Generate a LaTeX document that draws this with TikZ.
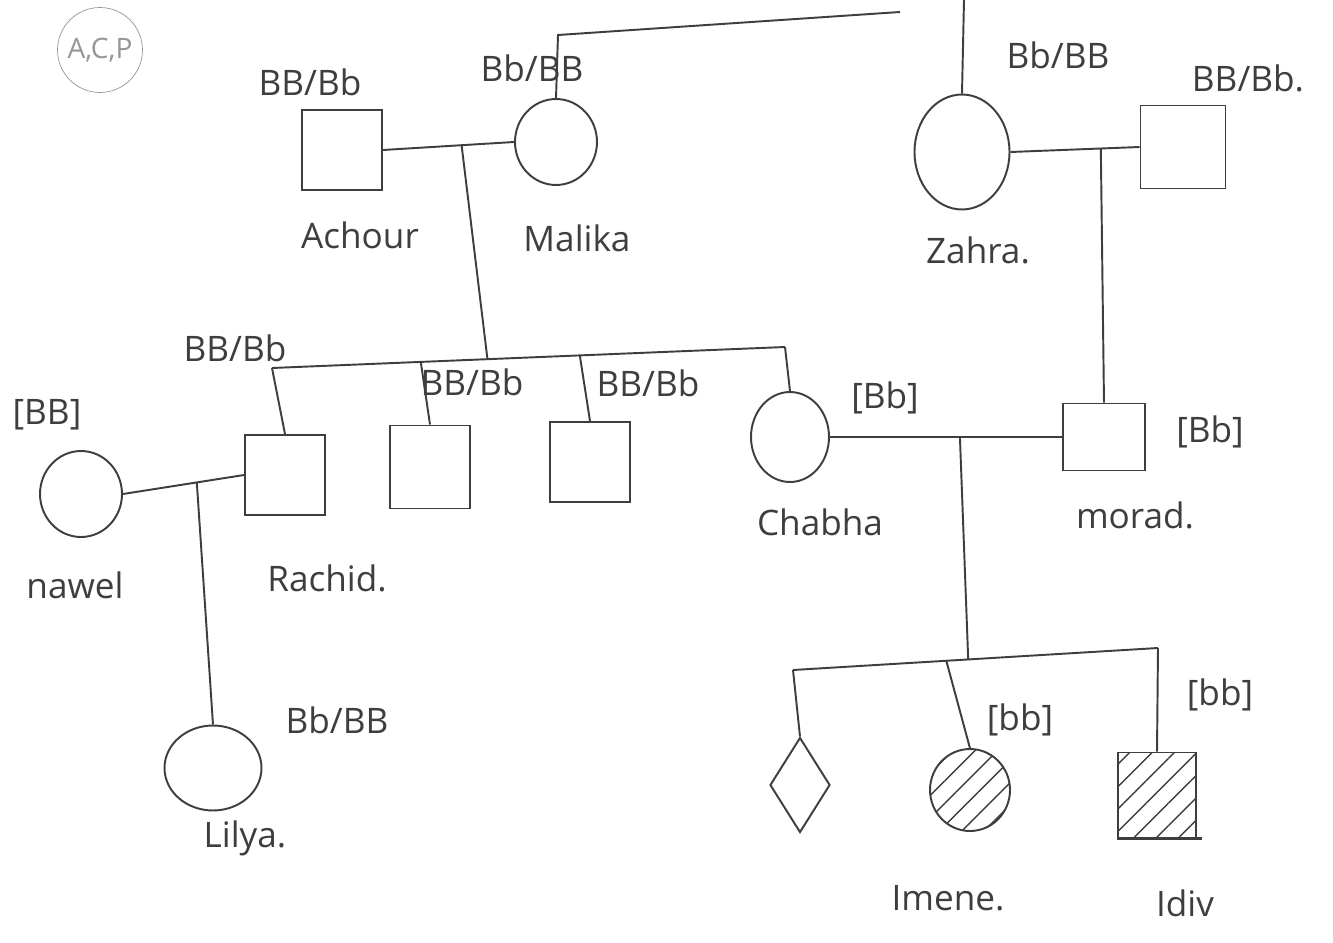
\documentclass[tikz,border=0pt]{standalone}
\usepackage{fontspec}
\setmainfont{Open Sans}
\usetikzlibrary{calc,shapes.geometric,patterns.meta}
\definecolor{Pencil}{RGB}{62,62,62}
\definecolor{FaintPencil}{RGB}{150,150,150}
\tikzset{
  person/.style={draw=Pencil,line width=1.1pt,inner sep=0pt},
  male/.style={person,rectangle,minimum width=1.6cm,minimum height=1.6cm},
  female/.style={person,ellipse,minimum width=1.64cm,minimum height=1.72cm},
  unknown/.style={person,diamond,minimum width=1.2cm,minimum height=1.9cm},
  affected/.style={pattern={Lines[angle=45,distance=9pt,line width=0.8pt]},
    pattern color=Pencil},
  geno/.style={text=Pencil,font=\fontsize{20}{24}\selectfont},
  nametag/.style={text=Pencil,font=\fontsize{20}{24}\selectfont},
  link/.style={draw=Pencil,line width=1.1pt}
}
\begin{document}
\begin{tikzpicture}[x=0.02cm,y=-0.02cm]
  \useasboundingbox[fill=white] (0,0) rectangle (1333,943);
  % corner mark
  \node[draw=FaintPencil,circle,minimum size=1.7cm,text=FaintPencil,
    font=\fontsize{16}{18}\selectfont] (mark) at (100,50) {A,C,P};
  % generation I
  \node[male] (achour) at (342,150) {};
  \node[female] (malika) at (556,142) {};
  \node[female,minimum width=1.9cm,minimum height=2.3cm] (zahra) at (962,152) {};
  \node[male,minimum width=1.7cm,minimum height=1.66cm] (zhusb) at (1183,147) {};
  \node[geno] (g-achour) at (310,82) {BB/Bb};
  \node[geno] (g-malika) at (532,68) {Bb/BB};
  \node[geno] (g-zahra) at (1058,55) {Bb/BB};
  \node[geno] (g-zhusb) at (1248,78) {BB/Bb.};
  \node[nametag] (n-achour) at (360,235) {Achour};
  \node[nametag] (n-malika) at (577,238) {Malika};
  \node[nametag] (n-zahra) at (978,250) {Zahra.};
  % generation II
  \node[male] (rachid) at (285,475) {};
  \node[male,minimum height=1.66cm] (son2) at (430,467) {};
  \node[male] (son3) at (590,462) {};
  \node[female,minimum width=1.56cm,minimum height=1.8cm] (chabha) at (790,437) {};
  \node[male,minimum width=1.64cm,minimum height=1.34cm] (morad) at (1104,437) {};
  \node[female] (nawel) at (81,494) {};
  \node[geno] (g-rachid) at (235,348) {BB/Bb};
  \node[geno] (g-son2) at (472,382) {BB/Bb};
  \node[geno] (g-son3) at (648,383) {BB/Bb};
  \node[geno] (g-chabha) at (885,398) {[Bb]};
  \node[geno] (g-morad) at (1210,432) {[Bb]};
  \node[geno] (g-nawel) at (47,415) {[BB]};
  \node[nametag] (n-nawel) at (75,585) {nawel};
  \node[nametag] (n-rachid) at (327,578) {Rachid.};
  \node[nametag] (n-chabha) at (820,522) {Chabha};
  \node[nametag] (n-morad) at (1135,515) {morad.};
  % generation III
  \node[female,minimum width=1.94cm,minimum height=1.7cm] (lilya) at (213,768) {};
  \node[unknown] (child1) at (800,785) {};
  \node[female,affected,minimum width=1.6cm,minimum height=1.64cm] (imene) at (970,790) {};
  \node[male,affected,minimum width=1.56cm,minimum height=1.7cm] (idiv) at (1157,795) {};
  \node[geno] (g-lilya) at (337,720) {Bb/BB};
  \node[geno] (g-imene) at (1020,720) {[bb]};
  \node[geno] (g-idiv) at (1220,695) {[bb]};
  \node[nametag] (n-lilya) at (245,838) {Lilya.};
  \node[nametag] (n-imene) at (948,898) {Imene.};
  \node[nametag] (n-idiv) at (1185,903) {Idiv};
  % lines up to the next generation off the sheet
  \coordinate (mtop) at (558,35);
  \coordinate (mend) at (900,12);
  \coordinate (ztop) at (964,0);
  \draw[link] (malika.north) -- (mtop) -- (mend);
  \draw[link] (zahra.north) -- (ztop);
  % couples
  \draw[link] (achour.east) -- (malika.west);
  \draw[link] (zahra.east) -- (zhusb.west);
  \draw[link] (nawel.east) -- (rachid.west);
  \draw[link] (chabha.east) -- (morad.west);
  \coordinate (am) at ($(achour.east)!0.6!(malika.west)$);
  \coordinate (zh) at ($(zahra.east)!0.7!(zhusb.west)$);
  \coordinate (nr) at ($(nawel.east)!0.61!(rachid.west)$);
  \coordinate (cm) at ($(chabha.east)!0.56!(morad.west)$);
  % sibship of Achour and Malika
  \coordinate (sibL) at (272,368);
  \coordinate (sibR) at (785,347);
  \draw[link] (sibL) -- (sibR);
  \draw[link] (am) -- ($(sibL)!0.42!(sibR)$);
  \draw[link] (sibL) -- (rachid.north);
  \draw[link] ($(sibL)!0.29!(sibR)$) -- (son2.north);
  \draw[link] ($(sibL)!0.60!(sibR)$) -- (son3.north);
  \draw[link] (sibR) -- (chabha.north);
  % child of Zahra
  \draw[link] (zh) -- (morad.north);
  % child of nawel and Rachid
  \draw[link] (nr) -- (lilya.north);
  % sibship of Chabha and morad
  \coordinate (sib2L) at (793,670);
  \coordinate (sib2R) at (1158,648);
  \draw[link] (sib2L) -- (sib2R);
  \draw[link] (cm) -- ($(sib2L)!0.48!(sib2R)$);
  \draw[link] (sib2L) -- (child1.north);
  \draw[link] ($(sib2L)!0.42!(sib2R)$) -- (imene.north);
  \draw[link] (sib2R) -- (idiv.north);
  \draw[link,line width=2pt] (idiv.south west) -- ([xshift=0.1cm]idiv.south east);
\end{tikzpicture}
\end{document}
